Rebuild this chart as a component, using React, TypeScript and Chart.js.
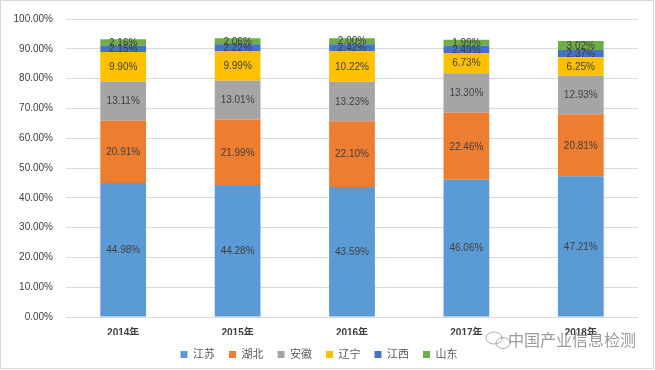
import React, { useEffect, useRef } from "react";
import { Chart, registerables } from "chart.js";

Chart.register(...registerables);

const years = ["2014年", "2015年", "2016年", "2017年", "2018年"];
const jiangsu = [44.98, 44.28, 43.59, 46.06, 47.21];
const hubei = [20.91, 21.99, 22.1, 22.46, 20.81];
const anhui = [13.11, 13.01, 13.23, 13.3, 12.93];
const liaoning = [9.9, 9.99, 10.22, 6.73, 6.25];
const jiangxi = [2.15, 2.22, 2.42, 2.49, 2.37];
const shandong = [2.16, 2.06, 2.0, 1.99, 3.02];
const yTicks = [0, 10, 20, 30, 40, 50, 60, 70, 80, 90, 100];

const FONT = "'Liberation Sans', 'Noto Sans CJK SC', sans-serif";

const labelPlugin = {
  id: "segLabels",
  afterDatasetsDraw(chart: any) {
    const ctx = chart.ctx;
    ctx.save();
    ctx.font = `10px ${FONT}`;
    ctx.fillStyle = "#404040";
    ctx.textAlign = "center";
    ctx.textBaseline = "middle";
    chart.data.datasets.forEach((ds: any, i: number) => {
      const meta = chart.getDatasetMeta(i);
      meta.data.forEach((bar: any, j: number) => {
        const v = ds.data[j];
        const y = (bar.y + bar.base) / 2;
        ctx.fillText(v.toFixed(2) + "%", bar.x, y + 0.5);
      });
    });
    ctx.restore();
  },
};

const watermarkPlugin = {
  id: "watermark",
  afterDraw(chart: any) {
    const ctx = chart.ctx;
    ctx.save();
    ctx.font = `16px 'Noto Sans CJK SC', sans-serif`;
    ctx.fillStyle = "rgba(120,120,120,0.75)";
    ctx.textAlign = "left";
    ctx.textBaseline = "middle";
    ctx.fillText("中国产业信息检测", 508, 340);
    ctx.strokeStyle = "rgba(140,140,140,0.7)";
    ctx.lineWidth = 1;
    ctx.beginPath();
    ctx.ellipse(494, 338, 8, 6, 0, 0, Math.PI * 2);
    ctx.stroke();
    ctx.beginPath();
    ctx.ellipse(503, 343, 7, 5.5, 0, 0, Math.PI * 2);
    ctx.stroke();
    ctx.restore();
  },
};

export default function App() {
  const ref = useRef<HTMLCanvasElement>(null);
  useEffect(() => {
    document.body.style.margin = "0";
    const mk = (label: string, data: number[], color: string) => ({
      label,
      data,
      backgroundColor: color,
      borderWidth: 0,
      barPercentage: 0.4,
      categoryPercentage: 1,
    });
    const chart = new Chart(ref.current!, {
      type: "bar",
      data: {
        labels: years,
        datasets: [
          mk("江苏", jiangsu, "#5B9BD5"),
          mk("湖北", hubei, "#ED7D31"),
          mk("安徽", anhui, "#A5A5A5"),
          mk("辽宁", liaoning, "#FFC000"),
          mk("江西", jiangxi, "#4472C4"),
          mk("山东", shandong, "#70AD47"),
        ],
      },
      options: {
        responsive: false,
        animation: false,
        layout: { padding: { top: 13, right: 17, left: 0, bottom: 0 } },
        plugins: {
          legend: {
            position: "bottom",
            labels: {
              boxWidth: 7,
              boxHeight: 7,
              padding: 14,
              color: "#595959",
              font: { family: FONT, size: 11 },
            },
          },
          tooltip: { enabled: false },
        },
        scales: {
          x: {
            stacked: true,
            grid: { display: false },
            border: { display: false },
            ticks: {
              color: "#404040",
              font: { family: FONT, size: 10, weight: "bold" },
              padding: 2,
            },
            afterFit: (s: any) => {
              s.height = 18;
            },
          },
          y: {
            stacked: true,
            min: 0,
            max: 100,
            afterBuildTicks: (s: any) => {
              s.ticks = yTicks.map((v) => ({ value: v }));
            },
            grid: { color: "#D9D9D9", drawTicks: false },
            border: { display: false },
            ticks: {
              color: "#404040",
              font: { family: FONT, size: 10 },
              padding: 13,
              callback: (v: any) => Number(v).toFixed(2) + "%",
            },
            afterFit: (s: any) => {
              s.width = 66;
            },
          },
        },
      },
      plugins: [labelPlugin, watermarkPlugin],
    });
    return () => chart.destroy();
  }, []);
  return (
    <div style={{ position: "relative", width: 655, height: 370 }}>
      <canvas ref={ref} width={655} height={370} style={{ display: "block" }} />
      <div
        style={{
          position: "absolute",
          left: 0,
          top: 0,
          width: 652,
          height: 367,
          border: "1px solid #D9D9D9",
          pointerEvents: "none",
        }}
      />
    </div>
  );
}
